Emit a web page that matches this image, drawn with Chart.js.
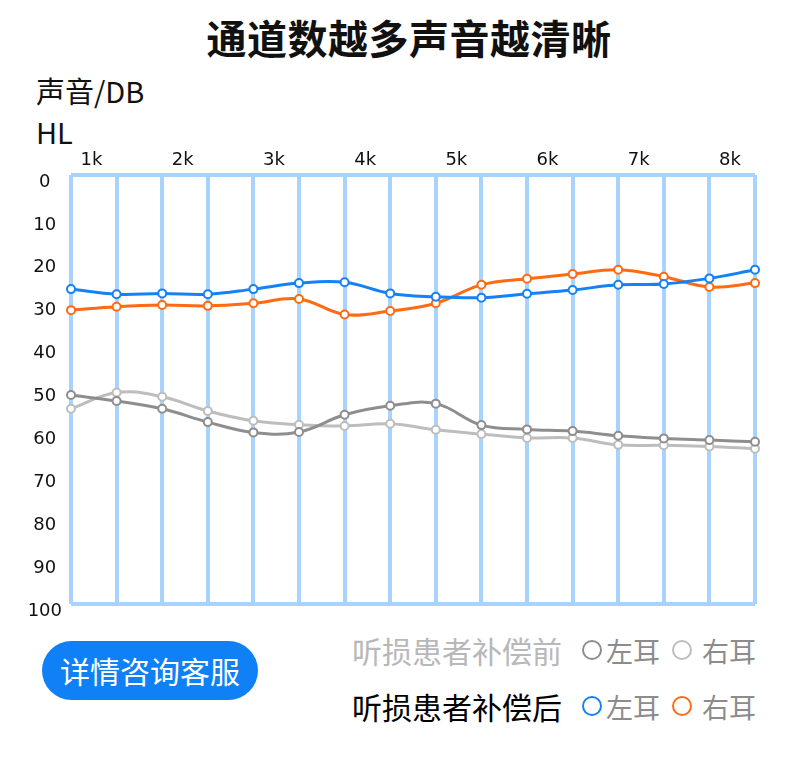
<!DOCTYPE html>
<html lang="zh-CN">
<head>
<meta charset="UTF-8">
<meta name="viewport" content="width=device-width, initial-scale=1.0">
<title>通道数越多声音越清晰</title>
<script src="https://cdn.jsdelivr.net/npm/chart.js@4"></script>
<style>
  html, body { margin: 0; padding: 0; background: #fff; }
  body {
    width: 790px; height: 760px; position: relative; overflow: hidden;
    font-family: "Noto Sans CJK SC", sans-serif; color: #111;
  }
  .titulo {
    position: absolute; left: 14px; top: 10px; width: 790px;
    text-align: center; font-size: 40px; font-weight: 700; line-height: 54px;
    letter-spacing: 0.5px;
  }
  .ytitle { position: absolute; left: 36px; font-size: 29px; line-height: 41px; top: 70px; }
  #wrap { position: absolute; left: 0; top: 140px; width: 790px; height: 480px; }
  .btn {
    position: absolute; left: 42px; top: 641px; width: 216px; height: 59px;
    border-radius: 30px; background: #0f80f6; color: #fff;
    font-size: 30px; line-height: 59px; text-align: center;
  }
  .fila {
    position: absolute; left: 352px; height: 40px;
    display: flex; align-items: center; white-space: nowrap;
  }
  .fila .nombre { font-size: 30px; width: 230px; }
  .fila .circ { width: 16px; height: 16px; border-radius: 50%; border: 2.5px solid; box-sizing: content-box; }
  .fila .oido { font-size: 27px; color: #8c8c8c; margin-left: 4px; }
  .fila .oido.izq { width: 66px; }
  .fila .oido.der { margin-left: 10px; }
</style>
</head>
<body>
  <div class="titulo">通道数越多声音越清晰</div>
  <div class="ytitle">声音/DB<br>HL</div>

  <div id="wrap"><canvas id="miGrafica"></canvas></div>

  <div class="btn">详情咨询客服</div>

  <div class="fila" style="top:630px;">
    <span class="nombre" style="color:#b8b8b8;">听损患者补偿前</span>
    <span class="circ" id="c1"></span><span class="oido izq">左耳</span>
    <span class="circ" id="c2"></span><span class="oido der">右耳</span>
  </div>
  <div class="fila" style="top:686px;">
    <span class="nombre" style="color:#000;">听损患者补偿后</span>
    <span class="circ" id="c3"></span><span class="oido izq">左耳</span>
    <span class="circ" id="c4"></span><span class="oido der">右耳</span>
  </div>

<script>
  // datos (dB HL, 16 canales)
  const channels = ['1','2','3','4','5','6','7','8','9','10','11','12','13','14','15','16'];
  const freqLabels = ['1k','2k','3k','4k','5k','6k','7k','8k'];

  const leftBefore  = [51.3, 52.7, 54.5, 57.6, 60.0, 59.9, 55.9, 53.8, 53.3, 58.3, 59.3, 59.7, 60.8, 61.4, 61.8, 62.2];
  const rightBefore = [54.5, 50.7, 51.7, 55.0, 57.3, 58.2, 58.5, 58.0, 59.4, 60.4, 61.3, 61.3, 62.9, 63.0, 63.3, 63.8];
  const leftAfter   = [26.6, 27.8, 27.6, 27.8, 26.6, 25.2, 25.0, 27.6, 28.4, 28.6, 27.7, 26.8, 25.6, 25.4, 24.1, 22.1];
  const rightAfter  = [31.5, 30.7, 30.3, 30.5, 29.9, 28.9, 32.5, 31.7, 29.9, 25.6, 24.2, 23.1, 22.1, 23.7, 26.1, 25.2];

  const gridBlue = '#a8d3fd';
  const colores = ['#8e8e8e', '#bdbdbd', '#1581f7', '#ff6a13'];

  // circulos de la leyenda
  ['c1','c2','c3','c4'].forEach((id, i) => {
    document.getElementById(id).style.borderColor = colores[i];
  });

  function serie(label, data, color) {
    return {
      label: label,
      data: data,
      borderColor: color,
      borderWidth: 3,
      tension: 0.4,
      pointRadius: 4,
      pointBorderWidth: 2,
      pointBackgroundColor: '#fff',
      pointBorderColor: color,
      clip: false
    };
  }

  const ctx = document.getElementById('miGrafica').getContext('2d');
  const chart = new Chart(ctx, {
    type: 'line',
    data: {
      labels: channels,
      datasets: [
        serie('补偿前 左耳', leftBefore, colores[0]),
        serie('补偿前 右耳', rightBefore, colores[1]),
        serie('补偿后 左耳', leftAfter, colores[2]),
        serie('补偿后 右耳', rightAfter, colores[3])
      ]
    },
    options: {
      responsive: true,
      maintainAspectRatio: false,
      animation: false,
      layout: { padding: { left: 0, right: 35, top: 0, bottom: 16 } },
      plugins: {
        legend: { display: false },
        tooltip: { enabled: false }
      },
      scales: {
        x: {
          type: 'category',
          offset: false,
          ticks: { display: false },
          grid: { color: gridBlue, lineWidth: 4, drawTicks: false },
          border: { display: false },
          afterFit: s => { s.height = 0; }
        },
        xTop: {
          type: 'linear',
          position: 'top',
          min: 0,
          max: channels.length - 1,
          grid: { display: false, drawTicks: false },
          border: { display: false },
          afterBuildTicks: s => {
            s.ticks = freqLabels.map((l, i) => ({ value: 2 * i + 0.45 }));
          },
          ticks: {
            autoSkip: false,
            maxRotation: 0,
            padding: 4,
            color: '#111',
            font: { family: 'DejaVu Sans', size: 18 },
            callback: (v, i) => freqLabels[i]
          },
          afterFit: s => { s.height = 35; }
        },
        y: {
          reverse: true,
          min: 0,
          max: 100,
          ticks: {
            stepSize: 10,
            padding: 9,
            crossAlign: 'center',
            labelOffset: 7,
            color: '#111',
            font: { family: 'DejaVu Sans', size: 18 }
          },
          grid: {
            color: c => (c.tick && (c.tick.value === 0 || c.tick.value === 100)) ? gridBlue : 'rgba(0,0,0,0)',
            lineWidth: 4,
            drawTicks: false
          },
          border: { display: false },
          afterFit: s => { s.width = 71; s.paddingTop = 0; s.paddingBottom = 0; }
        }
      }
    }
  });
</script>
</body>
</html>
